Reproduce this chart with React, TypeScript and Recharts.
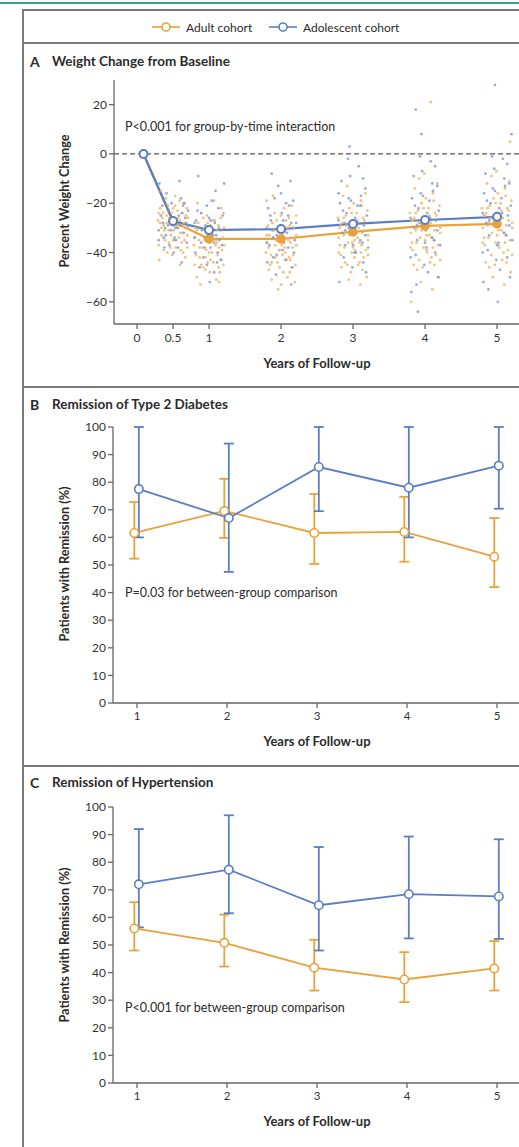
import React from 'react';
import { ComposedChart, Line, Scatter, XAxis, YAxis, ReferenceLine, ErrorBar } from 'recharts';

const ORANGE = '#E9A23B';
const BLUE = '#5A7EC4';
const DOT_ORANGE = '#EDB15C';
const DOT_BLUE = '#7E99D3';
const AXIS = '#666';
const FONT = 'Lato, "Open Sans", sans-serif';

// Panel A: mean percent change in weight from baseline
const weightYears = [0.09, 0.5, 1, 2, 3, 4, 5];
const adultWeight = [0, -27.5, -34.5, -34.5, -31.6, -29.2, -28.4];
const adolescentWeight = [0, -27.2, -30.9, -30.5, -28.4, -26.8, -25.5];
const weightTicksX = [0, 0.5, 1, 2, 3, 4, 5];
const weightTicksY = [-60, -40, -20, 0, 20];

// Individual participants: [offset from visit (years), percent change]
const adultSpread05 = [[-0.18,-22],[-0.12,-31],[-0.05,-26],[0.02,-35],[0.09,-19],[0.15,-28],[0.2,-33],[-0.2,-37],[-0.14,-24],[-0.08,-40],[0.0,-29],[0.06,-23],[0.12,-36],[0.18,-25],[-0.16,-30],[-0.1,-18],[-0.03,-33],[0.04,-38],[0.1,-27],[0.17,-42],[-0.21,-27],[-0.07,-21],[0.01,-31],[0.08,-34],[0.14,-20],[0.21,-30],[-0.19,-43],[-0.11,-35],[-0.02,-24],[0.05,-29],[0.11,-39],[0.19,-22],[-0.15,-26],[-0.06,-36],[0.03,-17],[0.13,-32],[-0.13,-39],[-0.01,-41],[0.07,-26],[0.16,-35],[-0.17,-15],[0.2,-38],[-0.09,-28],[0.0,-22],[0.1,-45],[-0.2,-24],[-0.13,-29],[-0.04,-38],[0.03,-21],[0.1,-32],[0.17,-30],[-0.16,-33],[-0.09,-25],[0.0,-35],[0.07,-30],[0.14,-40],[0.21,-26],[-0.06,-31],[0.12,-24],[-0.18,-28]];
const adolescentSpread05 = [[-0.17,-25],[-0.1,-33],[-0.02,-20],[0.06,-30],[0.13,-24],[0.19,-36],[-0.2,-31],[-0.12,-38],[-0.04,-27],[0.04,-35],[0.11,-18],[0.18,-28],[-0.15,-21],[-0.07,-29],[0.01,-40],[0.08,-25],[0.15,-32],[-0.19,-12],[-0.05,-37],[0.12,-44],[0.21,-23],[-0.09,-16],[0.03,-30],[0.16,-20],[-0.13,-34],[0.09,-11],[-0.01,-26],[0.2,-29],[-0.14,-28],[-0.06,-23],[0.02,-34],[0.1,-29],[0.17,-26],[-0.2,-35],[0.07,-38],[-0.11,-30],[0.14,-21],[-0.03,-31]];
const adultSpread1 = [[-0.19,-30],[-0.13,-42],[-0.06,-35],[0.01,-48],[0.08,-27],[0.14,-38],[0.2,-45],[-0.17,-50],[-0.1,-33],[-0.03,-25],[0.04,-40],[0.11,-31],[0.17,-22],[-0.21,-37],[-0.15,-28],[-0.08,-46],[0.0,-36],[0.06,-44],[0.13,-29],[0.19,-34],[-0.18,-41],[-0.11,-24],[-0.04,-39],[0.03,-32],[0.1,-51],[0.16,-26],[-0.2,-45],[-0.14,-35],[-0.07,-30],[0.02,-43],[0.09,-37],[0.15,-48],[0.21,-30],[-0.16,-20],[-0.05,-47],[0.05,-27],[0.12,-41],[-0.12,-53],[-0.01,-33],[0.07,-19],[0.18,-39],[-0.09,-38],[0.14,-52],[-0.02,-44],[0.2,-24],[-0.2,-34],[-0.13,-38],[-0.05,-42],[0.02,-29],[0.09,-35],[0.16,-43],[-0.17,-31],[-0.08,-26],[0.0,-40],[0.06,-33],[0.13,-46],[0.21,-37],[-0.11,-45],[0.11,-36],[-0.02,-28]];
const adolescentSpread1 = [[-0.18,-27],[-0.11,-36],[-0.03,-21],[0.05,-33],[0.12,-40],[0.19,-25],[-0.2,-34],[-0.13,-46],[-0.05,-29],[0.02,-38],[0.09,-15],[0.16,-31],[-0.16,-23],[-0.08,-42],[0.0,-26],[0.07,-48],[0.14,-35],[0.21,-12],[-0.15,-9],[-0.06,-34],[0.04,-19],[0.11,-44],[0.18,-37],[-0.1,-31],[0.01,-52],[0.13,-22],[-0.19,-40],[0.08,-28],[-0.14,-30],[-0.06,-38],[0.02,-27],[0.1,-33],[0.17,-43],[-0.2,-28],[0.07,-36],[-0.11,-24],[0.14,-30],[-0.03,-45]];
const adultSpread2 = [[-0.19,-36],[-0.12,-28],[-0.05,-44],[0.02,-33],[0.09,-50],[0.16,-38],[0.21,-25],[-0.17,-47],[-0.1,-31],[-0.03,-39],[0.04,-22],[0.11,-42],[0.18,-30],[-0.2,-19],[-0.14,-41],[-0.07,-35],[0.0,-53],[0.07,-27],[0.13,-36],[0.2,-45],[-0.16,-33],[-0.09,-24],[-0.02,-46],[0.05,-38],[0.12,-29],[0.19,-52],[-0.21,-40],[-0.13,-51],[-0.06,-27],[0.01,-37],[0.08,-43],[0.15,-21],[-0.18,-29],[-0.08,-37],[0.03,-48],[0.14,-34],[-0.11,-17],[0.06,-31],[0.17,-41],[-0.04,-55],[0.1,-35],[-0.15,-45],[0.21,-33],[-0.01,-30],[0.12,-48],[-0.2,-33],[-0.13,-44],[-0.05,-35],[0.02,-41],[0.09,-30],[0.16,-46],[-0.17,-38],[-0.08,-42],[0.0,-25],[0.06,-40],[0.13,-43],[0.21,-37],[-0.11,-34],[0.11,-26],[-0.02,-39]];
const adolescentSpread2 = [[-0.18,-22],[-0.11,-34],[-0.04,-13],[0.03,-27],[0.1,-38],[0.17,-19],[-0.2,-30],[-0.13,-8],[-0.06,-41],[0.01,-24],[0.08,-32],[0.15,-46],[0.21,-28],[-0.16,-37],[-0.09,-18],[-0.01,-29],[0.06,-43],[0.13,-11],[0.19,-35],[-0.15,-25],[-0.07,-49],[0.04,-36],[0.11,-21],[0.18,-40],[-0.12,-31],[0.0,-16],[0.14,-53],[-0.19,-44],[-0.14,-27],[-0.06,-33],[0.02,-39],[0.1,-25],[0.17,-30],[-0.2,-36],[0.07,-20],[-0.11,-42],[0.14,-28],[-0.03,-35]];
const adultSpread3 = [[-0.19,-30],[-0.12,-38],[-0.05,-22],[0.02,-35],[0.09,-44],[0.16,-27],[0.21,-33],[-0.17,-41],[-0.1,-25],[-0.03,-48],[0.04,-31],[0.11,-19],[0.18,-39],[-0.2,-34],[-0.14,-17],[-0.07,-36],[0.0,-28],[0.07,-45],[0.13,-32],[0.2,-23],[-0.16,-46],[-0.09,-29],[-0.02,-40],[0.05,-24],[0.12,-37],[0.19,-50],[-0.21,-26],[-0.13,-33],[-0.06,-51],[0.01,-20],[0.08,-30],[0.15,-42],[-0.18,-37],[-0.08,-13],[0.03,-39],[0.14,-26],[-0.11,-44],[0.06,-34],[0.17,-16],[-0.04,-31],[0.1,-53],[-0.15,-28],[0.21,-41],[-0.01,-36],[0.12,-21],[-0.2,-40],[-0.13,-26],[-0.05,-33],[0.02,-42],[0.09,-36],[0.16,-31],[-0.17,-29],[-0.08,-45],[0.0,-38],[0.06,-27],[0.13,-47],[0.21,-35],[-0.11,-32],[0.11,-40],[-0.02,-24]];
const adolescentSpread3 = [[-0.18,-20],[-0.11,-31],[-0.04,-9],[0.03,-26],[0.1,-35],[0.17,-14],[-0.2,-27],[-0.13,-42],[-0.06,-18],[0.01,-33],[0.08,-5],[0.15,-29],[0.21,-38],[-0.16,-11],[-0.09,-24],[-0.01,-46],[0.06,-21],[0.13,-36],[0.19,-25],[-0.15,-32],[-0.07,-2],[0.04,-40],[0.11,-17],[0.18,-48],[-0.12,-28],[0.0,-37],[0.14,-10],[-0.19,-52],[-0.05,3],[-0.14,-23],[-0.06,-30],[0.02,-40],[0.1,-21],[0.17,-33],[-0.2,-16],[0.07,-28],[-0.11,-37],[0.14,-44],[-0.03,-19]];
const adultSpread4 = [[-0.19,-27],[-0.12,-36],[-0.05,-20],[0.02,-33],[0.09,-42],[0.16,-25],[0.21,-30],[-0.17,-39],[-0.1,-23],[-0.03,-46],[0.04,-29],[0.11,-16],[0.18,-37],[-0.2,-32],[-0.14,-14],[-0.07,-34],[0.0,-26],[0.07,-44],[0.13,-31],[0.2,-21],[-0.16,-45],[-0.09,-28],[-0.02,-38],[0.05,-22],[0.12,-35],[0.19,-50],[-0.21,-24],[-0.13,-31],[-0.06,-52],[0.01,-18],[0.08,-28],[0.15,-41],[-0.18,-36],[-0.08,-10],[0.03,-40],[0.14,-24],[-0.11,-47],[0.06,-33],[0.17,-12],[-0.04,-30],[0.1,-55],[-0.15,-26],[0.21,-43],[-0.01,-8],[0.12,-19],[-0.19,-60],[0.08,21],[-0.2,-38],[-0.13,-24],[-0.05,-31],[0.02,-39],[0.09,-34],[0.16,-29],[-0.17,-27],[-0.08,-43],[0.0,-35],[0.06,-25],[0.13,-45],[0.21,-32],[-0.11,-30],[0.11,-38],[-0.02,-22]];
const adolescentSpread4 = [[-0.18,-18],[-0.11,-29],[-0.04,-7],[0.03,-24],[0.1,-34],[0.17,-13],[-0.2,-26],[-0.13,-41],[-0.06,-16],[0.01,-31],[0.08,-3],[0.15,-27],[0.21,-37],[-0.16,-9],[-0.09,-22],[-0.01,-45],[0.06,-19],[0.13,-35],[0.19,-23],[-0.15,-30],[-0.07,-1],[0.04,-48],[0.11,-15],[0.18,-50],[-0.12,-53],[0.0,-36],[0.14,-5],[-0.19,-56],[-0.05,8],[-0.13,18],[-0.1,-64],[-0.14,-21],[-0.06,-28],[0.02,-38],[0.1,-12],[0.17,-31],[-0.2,-42],[0.07,-26],[-0.11,-35],[0.14,-40],[-0.03,-17]];
const adultSpread5 = [[-0.19,-25],[-0.12,-34],[-0.05,-18],[0.02,-31],[0.09,-40],[0.16,-23],[0.21,-28],[-0.17,-37],[-0.1,-21],[-0.03,-45],[0.04,-27],[0.11,-14],[0.18,-35],[-0.2,-30],[-0.14,-12],[-0.07,-32],[0.0,-24],[0.07,-43],[0.13,-29],[0.2,-19],[-0.16,-44],[-0.09,-26],[-0.02,-36],[0.05,-20],[0.12,-33],[0.19,-48],[-0.21,-22],[-0.13,-29],[-0.06,-50],[0.01,-16],[0.08,-26],[0.15,-39],[-0.18,-34],[-0.08,-9],[0.03,-38],[0.14,-22],[-0.11,-46],[0.06,-31],[0.17,-11],[-0.04,-28],[0.1,-53],[-0.15,-24],[0.21,-41],[-0.01,-7],[0.12,-17],[0.18,5],[-0.2,-36],[-0.13,-22],[-0.05,-29],[0.02,-37],[0.09,-32],[0.16,-27],[-0.17,-25],[-0.08,-41],[0.0,-33],[0.06,-23],[0.13,-44],[0.21,-30],[-0.11,-28],[0.11,-36],[-0.02,-20]];
const adolescentSpread5 = [[-0.18,-16],[-0.11,-27],[-0.04,-6],[0.03,-22],[0.1,-32],[0.17,-12],[-0.2,-24],[-0.13,-39],[-0.06,-14],[0.01,-29],[0.08,-2],[0.15,-25],[0.21,-35],[-0.16,-8],[-0.09,-20],[-0.01,-43],[0.06,-18],[0.13,-33],[0.19,-21],[-0.15,-28],[-0.07,-1],[0.04,-47],[0.11,-13],[0.18,-50],[-0.12,-55],[0.0,-37],[0.14,-4],[-0.19,-52],[0.01,-60],[-0.03,28],[0.2,8],[-0.14,-19],[-0.06,-26],[0.02,-36],[0.1,-10],[0.17,-29],[-0.2,-40],[0.07,-24],[-0.11,-33],[0.14,-42],[-0.03,-15]];

// Panels B and C: remission rates with 95% confidence limits
const remissionYears = [1, 2, 3, 4, 5];
const remissionTicksY = [0, 10, 20, 30, 40, 50, 60, 70, 80, 90, 100];

const diabetesAdult = [61.6, 69.6, 61.6, 62, 53];
const diabetesAdultLow = [52.3, 59.8, 50.4, 51.2, 42];
const diabetesAdultHigh = [72.8, 81.2, 75.7, 74.7, 67];
const diabetesAdolescent = [77.5, 67, 85.5, 78, 86];
const diabetesAdolescentLow = [60, 47.5, 69.5, 60, 70.4];
const diabetesAdolescentHigh = [100, 94, 100, 100, 100];

const hypertensionAdult = [56, 50.8, 41.8, 37.5, 41.5];
const hypertensionAdultLow = [48, 42.2, 33.5, 29.3, 33.5];
const hypertensionAdultHigh = [65.5, 61, 51.9, 47.4, 51.4];
const hypertensionAdolescent = [72, 77.3, 64.4, 68.4, 67.6];
const hypertensionAdolescentLow = [56.4, 61.5, 48, 52.4, 52.2];
const hypertensionAdolescentHigh = [92, 97, 85.5, 89.3, 88.3];

const ADULT_SHIFT = -0.03;
const ADOLESCENT_SHIFT = 0.02;

const cloud = (t: number, pts: number[][]) => pts.map(([dx, y]) => ({ x: t + dx, y }));
const adultCloud = [
  ...cloud(0.5, adultSpread05), ...cloud(1, adultSpread1), ...cloud(2, adultSpread2),
  ...cloud(3, adultSpread3), ...cloud(4, adultSpread4), ...cloud(5, adultSpread5),
];
const adolescentCloud = [
  ...cloud(0.5, adolescentSpread05), ...cloud(1, adolescentSpread1), ...cloud(2, adolescentSpread2),
  ...cloud(3, adolescentSpread3), ...cloud(4, adolescentSpread4), ...cloud(5, adolescentSpread5),
];
const adultWeightRows = weightYears.map((x, i) => ({ x, y: adultWeight[i] }));
const adolescentWeightRows = weightYears.map((x, i) => ({ x, y: adolescentWeight[i] }));

const withLimits = (vals: number[], lo: number[], hi: number[], shift: number) =>
  remissionYears.map((yr, i) => ({ x: yr + shift, y: vals[i], err: [vals[i] - lo[i], hi[i] - vals[i]] }));

const minusFmt = (v: number) => (v < 0 ? '\u2212' + Math.abs(v) : String(v));

const tickStyle = { fill: '#333', fontSize: 12, fontFamily: FONT };

const dotShape = (color: string) => (p: any) => (
  <circle cx={p.cx} cy={p.cy} r={1.4} fill={color} fillOpacity={0.8} />
);

const abs = (left: number, top: number): React.CSSProperties => ({ position: 'absolute', left, top });

function Text({ left, top, children, size = 12.5, bold = false, center = false, style = {} }: any) {
  return (
    <div
      style={{
        ...abs(left, top),
        fontFamily: FONT,
        fontSize: size,
        fontWeight: bold ? 700 : 400,
        color: '#2b2b2b',
        whiteSpace: 'nowrap',
        lineHeight: 1,
        transform: center ? 'translate(-50%, -50%)' : 'translateY(-50%)',
        ...style,
      }}
    >
      {children}
    </div>
  );
}

function VerticalLabel({ left, top, children }: any) {
  return (
    <div
      style={{
        ...abs(left, top),
        fontFamily: FONT,
        fontSize: 12.7,
        fontWeight: 700,
        color: '#2b2b2b',
        whiteSpace: 'nowrap',
        lineHeight: 1,
        transform: 'translate(-50%, -50%) rotate(-90deg)',
      }}
    >
      {children}
    </div>
  );
}

function LegendItem({ left, color, label }: any) {
  return (
    <div style={{ ...abs(left, 20), display: 'flex', alignItems: 'center', height: 14 }}>
      <svg width={28} height={12}>
        <line x1={0} y1={6} x2={28} y2={6} stroke={color} strokeWidth={1.6} />
        <circle cx={14} cy={6} r={4} fill="#fff" stroke={color} strokeWidth={1.6} />
      </svg>
      <span style={{ fontFamily: FONT, fontSize: 12, color: '#2b2b2b', marginLeft: 6 }}>{label}</span>
    </div>
  );
}

function WeightPanel() {
  return (
    <div style={abs(0, 70)}>
      <ComposedChart width={560} height={284} margin={{ top: 10, right: 0, bottom: 0, left: 74 }}>
        <XAxis
          type="number"
          dataKey="x"
          domain={[-0.32, 5.874]}
          ticks={weightTicksX}
          allowDataOverflow
          height={30}
          stroke={AXIS}
          strokeWidth={1.3}
          tickSize={5}
          tickMargin={4}
          tick={tickStyle}
        />
        <YAxis
          type="number"
          dataKey="y"
          domain={[-69, 30]}
          ticks={weightTicksY}
          allowDataOverflow
          width={40}
          stroke={AXIS}
          strokeWidth={1.3}
          tickSize={5}
          tick={tickStyle}
          tickFormatter={minusFmt}
        />
        <ReferenceLine y={0} stroke="#555" strokeDasharray="5 3" strokeWidth={1.3} />
        <Scatter data={adultCloud} dataKey="y" shape={dotShape(DOT_ORANGE)} isAnimationActive={false} />
        <Scatter data={adolescentCloud} dataKey="y" shape={dotShape(DOT_BLUE)} isAnimationActive={false} />
        <Line
          data={adultWeightRows}
          dataKey="y"
          stroke={ORANGE}
          strokeWidth={2.2}
          dot={{ r: 4, fill: ORANGE, stroke: ORANGE, strokeWidth: 1.5 }}
          isAnimationActive={false}
        />
        <Line
          data={adolescentWeightRows}
          dataKey="y"
          stroke={BLUE}
          strokeWidth={2.2}
          dot={{ r: 4, fill: '#fff', stroke: BLUE, strokeWidth: 2 }}
          isAnimationActive={false}
        />
      </ComposedChart>
    </div>
  );
}

function RemissionPanel({ top, adult, adolescent }: any) {
  return (
    <div style={abs(0, top)}>
      <ComposedChart width={560} height={316} margin={{ top: 10, right: 0, bottom: 0, left: 73 }}>
        <XAxis
          type="number"
          dataKey="x"
          domain={[0.733, 5.7]}
          ticks={remissionYears}
          allowDataOverflow
          height={30}
          stroke={AXIS}
          strokeWidth={1.3}
          tickSize={5}
          tickMargin={4}
          tick={{ ...tickStyle, fontSize: 11.5 }}
        />
        <YAxis
          type="number"
          dataKey="y"
          domain={[0, 100]}
          ticks={remissionTicksY}
          width={40}
          stroke={AXIS}
          strokeWidth={1.3}
          tickSize={5}
          tick={tickStyle}
        />
        <Line data={adult} dataKey="y" stroke={ORANGE} strokeWidth={1.8}
          dot={{ r: 4.2, fill: '#fff', stroke: ORANGE, strokeWidth: 1.6 }} isAnimationActive={false}>
          <ErrorBar dataKey="err" width={5} stroke={ORANGE} strokeWidth={1.8} direction="y" />
        </Line>
        <Line data={adolescent} dataKey="y" stroke={BLUE} strokeWidth={1.8}
          dot={{ r: 4.2, fill: '#fff', stroke: BLUE, strokeWidth: 1.6 }} isAnimationActive={false}>
          <ErrorBar dataKey="err" width={5} stroke={BLUE} strokeWidth={1.8} direction="y" />
        </Line>
      </ComposedChart>
    </div>
  );
}

export default function App() {
  const rule = '#7b7b7b';
  return (
    <div style={{ position: 'absolute', left: 0, top: 0, width: 519, height: 1147, overflow: 'hidden', background: '#fff' }}>
      <div style={{ ...abs(0, 2), width: 519, height: 2, background: '#33a48c' }} />
      <div style={{ ...abs(22, 9), width: 700, height: 1300, border: `2px solid ${rule}` }} />
      <div style={{ ...abs(22, 42), width: 520, height: 2, background: rule }} />
      <div style={{ ...abs(22, 386), width: 520, height: 2, background: rule }} />
      <div style={{ ...abs(22, 765), width: 520, height: 2, background: rule }} />

      <LegendItem left={152} color={ORANGE} label="Adult cohort" />
      <LegendItem left={269} color={BLUE} label="Adolescent cohort" />

      <Text left={30} top={62} size={14} bold>A</Text>
      <Text left={52} top={62} size={13.5} bold>Weight Change from Baseline</Text>
      <WeightPanel />
      <VerticalLabel left={64} top={201}>Percent Weight Change</VerticalLabel>
      <Text left={125} top={127}>P&lt;0.001 for group-by-time interaction</Text>
      <Text left={317} top={363} size={13} bold center>Years of Follow-up</Text>

      <Text left={30} top={405} size={14} bold>B</Text>
      <Text left={52} top={405} size={13.5} bold>Remission of Type 2 Diabetes</Text>
      <RemissionPanel
        top={417}
        adult={withLimits(diabetesAdult, diabetesAdultLow, diabetesAdultHigh, ADULT_SHIFT)}
        adolescent={withLimits(diabetesAdolescent, diabetesAdolescentLow, diabetesAdolescentHigh, ADOLESCENT_SHIFT)}
      />
      <VerticalLabel left={64} top={564}>Patients with Remission (%)</VerticalLabel>
      <Text left={125} top={593}>P=0.03 for between-group comparison</Text>
      <Text left={317} top={741} size={13} bold center>Years of Follow-up</Text>

      <Text left={30} top={783} size={14} bold>C</Text>
      <Text left={52} top={783} size={13.5} bold>Remission of Hypertension</Text>
      <RemissionPanel
        top={797}
        adult={withLimits(hypertensionAdult, hypertensionAdultLow, hypertensionAdultHigh, ADULT_SHIFT)}
        adolescent={withLimits(hypertensionAdolescent, hypertensionAdolescentLow, hypertensionAdolescentHigh, ADOLESCENT_SHIFT)}
      />
      <VerticalLabel left={64} top={945}>Patients with Remission (%)</VerticalLabel>
      <Text left={125} top={1008}>P&lt;0.001 for between-group comparison</Text>
      <Text left={317} top={1121} size={13} bold center>Years of Follow-up</Text>
    </div>
  );
}
